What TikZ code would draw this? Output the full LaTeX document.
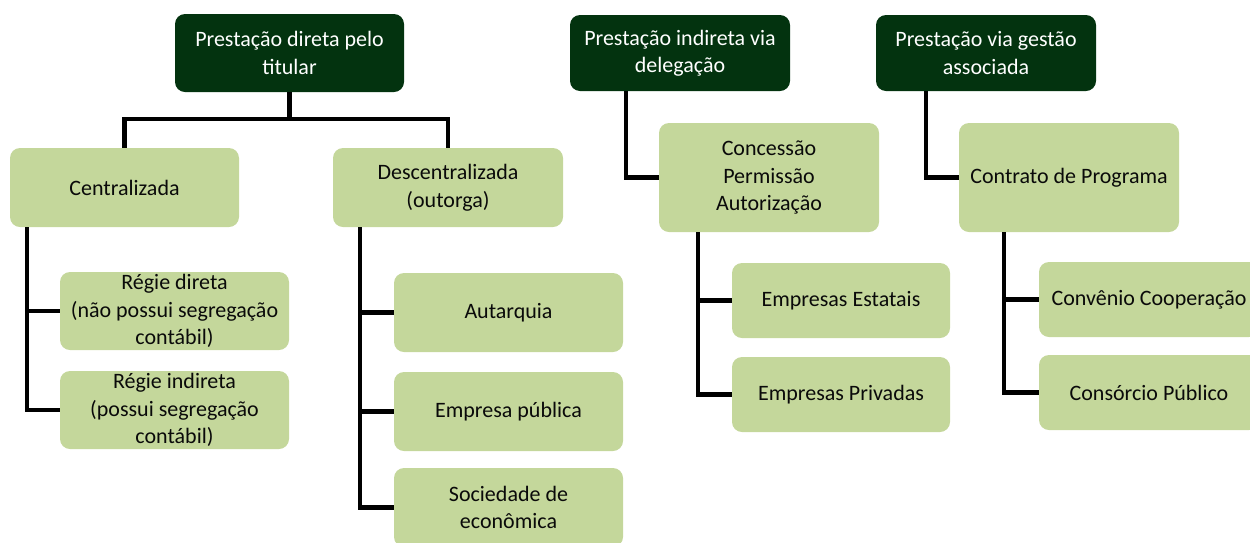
\documentclass[tikz,border=0pt]{standalone}
\usepackage{fontspec}
\setmainfont{Carlito}
\definecolor{darkg}{HTML}{03330F}
\definecolor{lightg}{HTML}{C4D79B}
\definecolor{txt}{HTML}{0A0A0A}
\begin{document}
\begin{tikzpicture}[x=1pt,y=-1pt,
  box/.style={rounded corners=10pt, inner sep=2pt, align=center, font=\fontsize{22}{27.5}\selectfont},
  topbox/.style={box, fill=darkg, text=white},
  subbox/.style={box, fill=lightg, text=txt},
  conn/.style={draw=black, line width=4.2pt}]
\useasboundingbox (0,0) rectangle (1250,542);
\clip (0,0) rectangle (1250,542);
% top level
\node[topbox, minimum width=229pt, minimum height=78pt] (R1) at (289.5,53) {Prestação direta pelo\\titular};
\node[topbox, minimum width=220pt, minimum height=76pt] (R2) at (680,53) {Prestação indireta via\\delegação};
\node[topbox, minimum width=220pt, minimum height=76pt] (R3) at (986,53) {Prestação via gestão\\associada};
% second level
\node[subbox, minimum width=229pt, minimum height=79pt] (Cen) at (124.5,187.5) {Centralizada};
\node[subbox, minimum width=230pt, minimum height=79pt] (Des) at (448,187.5) {Descentralizada\\(outorga)};
\node[subbox, minimum width=220pt, minimum height=109pt] (Con) at (769,177.5) {Concessão\\Permissão\\Autorização};
\node[subbox, minimum width=220pt, minimum height=109pt] (CP) at (1069,177.5) {Contrato de Programa};
% third level
\node[subbox, minimum width=229pt, minimum height=78pt] (Rd) at (174.5,311) {Régie direta\\(não possui segregação\\contábil)};
\node[subbox, minimum width=229pt, minimum height=78pt] (Ri) at (174.5,410) {Régie indireta\\(possui segregação\\contábil)};
\node[subbox, minimum width=229pt, minimum height=79pt] (Aut) at (508.5,312.5) {Autarquia};
\node[subbox, minimum width=229pt, minimum height=79pt] (EP) at (508.5,411.5) {Empresa pública};
\node[subbox, minimum width=229pt, minimum height=79pt] (Soc) at (508.5,507.5) {Sociedade de\\econômica};
\node[subbox, minimum width=218pt, minimum height=75pt] (EE) at (841,300.5) {Empresas Estatais};
\node[subbox, minimum width=218pt, minimum height=75pt] (EPv) at (841,394.5) {Empresas Privadas};
\node[subbox, minimum width=220pt, minimum height=75pt] (CC) at (1149,299.5) {Convênio Cooperação};
\node[subbox, minimum width=220pt, minimum height=75pt] (CPu) at (1149,392.5) {Consórcio Público};
% connectors
\draw[conn] (R1.south) -- (R1.south |- 0,119) -| (Cen.north);
\draw[conn] (R1.south) -- (R1.south |- 0,119) -| (Des.north);
\draw[conn] ([xshift=17pt]Cen.south west) |- (Rd.west);
\draw[conn] ([xshift=17pt]Cen.south west) |- (Ri.west);
\draw[conn] ([xshift=27pt]Des.south west) |- (Aut.west);
\draw[conn] ([xshift=27pt]Des.south west) |- (EP.west);
\draw[conn] ([xshift=27pt]Des.south west) |- (Soc.west);
\draw[conn] ([xshift=56pt]R2.south west) |- (Con.west);
\draw[conn] ([xshift=39pt]Con.south west) |- (EE.west);
\draw[conn] ([xshift=39pt]Con.south west) |- (EPv.west);
\draw[conn] ([xshift=50pt]R3.south west) |- (CP.west);
\draw[conn] ([xshift=45pt]CP.south west) |- (CC.west);
\draw[conn] ([xshift=45pt]CP.south west) |- (CPu.west);
\end{tikzpicture}
\end{document}
